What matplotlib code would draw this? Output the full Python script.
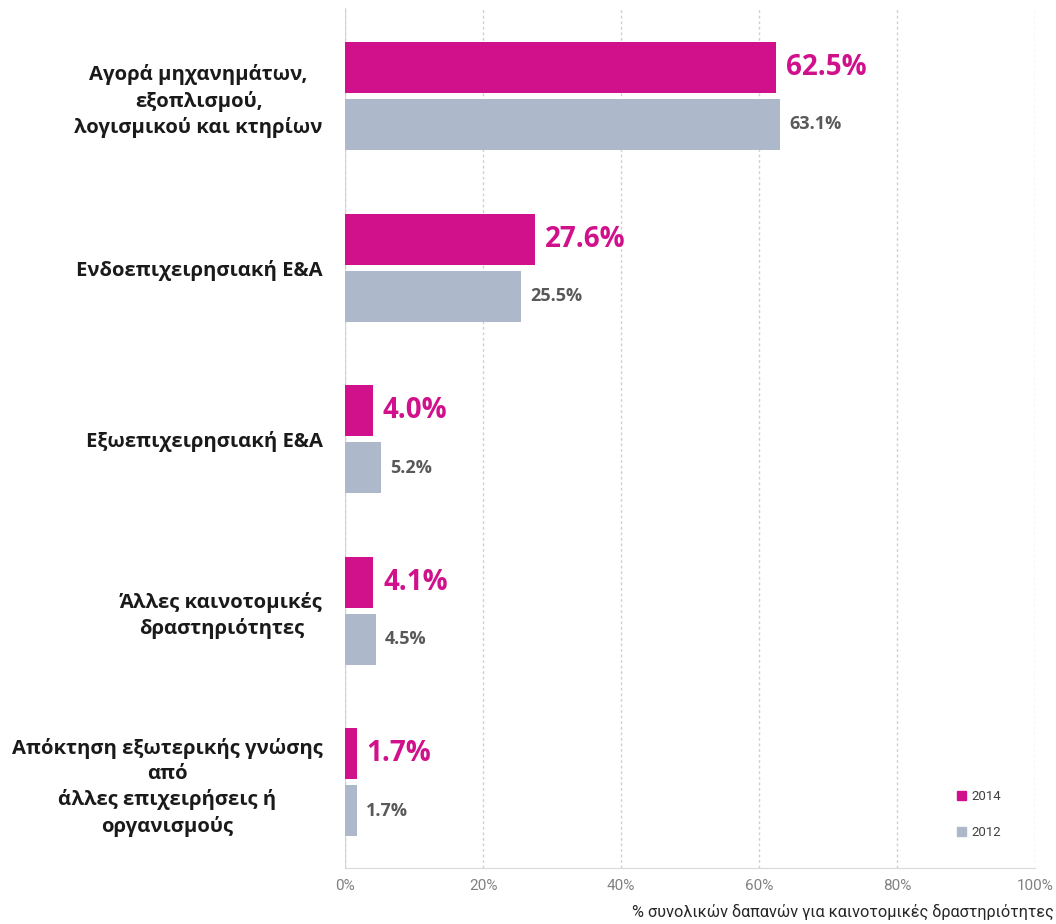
import matplotlib
matplotlib.use("Agg")
import matplotlib.pyplot as plt
import numpy as np
from matplotlib.patches import Patch

categories = [
    "Αγορά μηχανημάτων,\nεξοπλισμού,\nλογισμικού και κτηρίων",
    "Ενδοεπιχειρησιακή Ε&Α",
    "Εξωεπιχειρησιακή Ε&Α",
    "Άλλες καινοτομικές\nδραστηριότητες",
    "Απόκτηση εξωτερικής γνώσης\nαπό\nάλλες επιχειρήσεις ή\nοργανισμούς",
]
values_2014 = [62.5, 27.6, 4.0, 4.1, 1.7]
values_2012 = [63.1, 25.5, 5.2, 4.5, 1.7]
series_labels = ["2014", "2012"]
xticks = [0, 20, 40, 60, 80, 100]
xlabel = "% συνολικών δαπανών για καινοτομικές δραστηριότητες"

c2014 = "#D0118B"
c2012 = "#ADB9CA"

plt.rcParams['font.family'] = ['Open Sans', 'DejaVu Sans']

fig = plt.figure(figsize=(10.56, 9.24), dpi=100)
ax = fig.add_axes([345/1056, 1-868/924, 690/1056, 860/924])

y = np.arange(len(categories))
h = 0.297
off = 0.166
ax.barh(y - off, values_2014, height=h, color=c2014, zorder=3)
ax.barh(y + off, values_2012, height=h, color=c2012, zorder=3)

for yi, v in zip(y, values_2014):
    ax.annotate(f"{v:.1f}%", (v, yi - off), xytext=(7, 0), textcoords="offset points",
                va="center", ha="left", fontsize=20, fontweight="bold", color=c2014)
for yi, v in zip(y, values_2012):
    ax.annotate(f"{v:.1f}%", (v, yi + off), xytext=(6.5, 0), textcoords="offset points",
                va="center", ha="left", fontsize=13, fontweight="bold", color="#595959")

ax.set_xlim(0, 100)
ax.set_ylim(4.5, -0.513)
ax.set_yticks(y)
ax.set_yticklabels(categories, fontsize=14.6, fontweight="bold", color="#1a1a1a",
                   linespacing=1.33)
for t in ax.get_yticklabels():
    t.set_multialignment("center")
ax.tick_params(axis="y", length=0, pad=16)
ax.set_xticks(xticks)
ax.set_xticklabels([f"{t}%" for t in xticks], family="Roboto", fontsize=11, color="#808080")
ax.tick_params(axis="x", length=0, pad=8)

ax.grid(axis="x", color="#D0D0D0", linestyle=(0, (2, 2)), linewidth=1, zorder=0)
for s in ["top", "right", "left"]:
    ax.spines[s].set_visible(False)
ax.spines["bottom"].set_color("#D9D9D9")
ax.axvline(0, color="#D9D9D9", linewidth=1, zorder=1)

fig.text(1054/1056, 1-912/924, xlabel, ha="right", va="center", family="Roboto",
         fontsize=11.7, color="#262626")

handles = [Patch(color=c2014), Patch(color=c2012)]
leg = ax.legend(handles, series_labels, loc="lower right", bbox_to_anchor=(0.968, 0.02),
                frameon=False, handlelength=0.7, handleheight=0.7,
                labelspacing=1.7, handletextpad=0.4,
                prop={"family": "Roboto", "size": 9.5})
for t in leg.get_texts():
    t.set_color("#404040")

fig.savefig("out.png", dpi=100, facecolor="white")
